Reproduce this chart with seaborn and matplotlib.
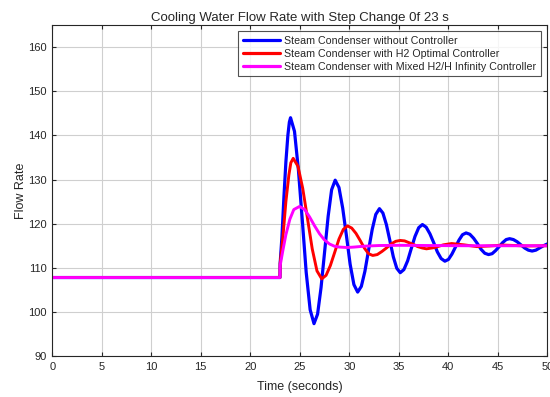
import numpy as np
import pandas as pd
import matplotlib
matplotlib.use('Agg')
import matplotlib.pyplot as plt
import seaborn as sns

# time / value pairs (step change at 23 s)
t_blue = [0, 23.0, 23.02, 23.2, 23.4, 23.6, 23.8, 23.95, 24.07,
          24.47, 24.86, 25.26, 25.65, 26.05, 26.44,
          26.80, 27.15, 27.51, 27.87, 28.22, 28.58,
          28.96, 29.34, 29.72, 30.09, 30.47, 30.85,
          31.22, 31.58, 31.95, 32.32, 32.68, 33.05,
          33.40, 33.75, 34.10, 34.45, 34.80, 35.15,
          35.52, 35.90, 36.27, 36.64, 37.02, 37.39,
          37.77, 38.15, 38.53, 38.90, 39.28, 39.66,
          40.02, 40.37, 40.73, 41.09, 41.44, 41.80,
          42.18, 42.56, 42.94, 43.31, 43.69, 44.07,
          44.43, 44.78, 45.14, 45.49, 45.85, 46.20,
          46.58, 46.96, 47.34, 47.71, 48.09, 48.47,
          48.85, 49.23, 49.62, 50.0]
v_blue = [107.8, 107.8, 111.0, 117.0, 126.0, 134.0, 140.0, 143.0, 144.0,
          140.9, 132.3, 120.7, 109.0, 100.5, 97.35,
          99.5, 105.5, 113.6, 121.7, 127.7, 129.85,
          128.2, 123.5, 117.2, 110.8, 106.2, 104.5,
          105.8, 109.2, 114.0, 118.7, 122.1, 123.4,
          122.4, 119.8, 116.2, 112.5, 109.9, 108.9,
          109.6, 111.6, 114.4, 117.1, 119.1, 119.8,
          119.2, 117.7, 115.7, 113.6, 112.1, 111.5,
          111.9, 113.1, 114.7, 116.3, 117.5, 117.9,
          117.6, 116.7, 115.5, 114.2, 113.3, 113.0,
          113.2, 113.9, 114.8, 115.7, 116.4, 116.6,
          116.4, 115.9, 115.2, 114.5, 114.0, 113.8,
          114.0, 114.5, 115.0, 115.4]

t_red = [0, 23.0, 23.02, 23.3, 23.6, 23.9, 24.1, 24.34,
         24.82, 25.30, 25.78, 26.26, 26.74, 27.22,
         27.66, 28.09, 28.53, 28.96, 29.40, 29.83,
         30.25, 30.68, 31.10, 31.52, 31.95, 32.37,
         32.83, 33.30, 33.76, 34.22, 34.69, 35.15,
         35.59, 36.03, 36.48, 36.92, 37.36, 37.80,
         38.64, 39.07, 39.50, 40.34, 41.6, 42.9, 44.2, 45.5, 46.8, 48.0, 50.0]
v_red = [107.8, 107.8, 111.0, 117.0, 125.0, 131.0, 133.8, 134.8,
         133.0, 128.0, 121.2, 114.3, 109.3, 107.5,
         108.3, 110.5, 113.5, 116.5, 118.7, 119.5,
         119.0, 117.8, 116.2, 114.5, 113.2, 112.8,
         113.0, 113.7, 114.5, 115.4, 116.0, 116.2,
         116.1, 115.7, 115.3, 114.8, 114.5, 114.3,
         114.6, 114.9, 115.2, 115.5, 115.2, 114.8, 114.95, 115.15, 115.05, 114.95, 115.0]

t_mag = [0, 23.0, 23.02, 23.3, 23.6, 24.0, 24.4, 24.98, 25.5, 26.0, 26.5,
         27.0, 27.5, 28.0, 28.5, 29.0, 29.8, 30.5, 31.5, 33.0, 35.0, 38.0, 42.0, 50.0]
v_mag = [107.8, 107.8, 110.5, 114.0, 117.5, 121.0, 123.2, 123.9, 123.2, 121.5, 119.5,
         117.7, 116.3, 115.4, 114.9, 114.7, 114.6, 114.7, 114.9, 115.05, 115.1, 115.05, 115.0, 115.0]

labels = ['Steam Condenser without Controller',
          'Steam Condenser with H2 Optimal Controller',
          'Steam Condenser with Mixed H2/H Infinity Controller']
colors = ['#0000ff', '#ff0000', '#ff00ff']

sns.set_style('ticks')
plt.rcParams['font.family'] = ['Liberation Sans', 'DejaVu Sans']

fig, ax = plt.subplots(figsize=(5.5, 3.97), dpi=100)
fig.subplots_adjust(left=0.095, right=0.995, top=0.937, bottom=0.103)

sns.lineplot(x=t_blue, y=v_blue, ax=ax, color=colors[0], lw=2.3, label=labels[0],
             sort=False, estimator=None)
sns.lineplot(x=t_red, y=v_red, ax=ax, color=colors[1], lw=2.1, label=labels[1],
             sort=False, estimator=None)
sns.lineplot(x=t_mag, y=v_mag, ax=ax, color=colors[2], lw=2.1, label=labels[2],
             sort=False, estimator=None)

ax.set_xlim(0, 50)
ax.set_ylim(90, 165)
ax.set_xticks(np.arange(0, 51, 5))
ax.set_yticks(np.arange(90, 161, 10))
ax.grid(True, color='#cfcfcf', lw=0.8)
ax.set_axisbelow(True)
ax.tick_params(direction='in', top=True, right=True, labelsize=8, length=3,
               colors='#262626', pad=4)
for s in ax.spines.values():
    s.set_color('#262626')
    s.set_linewidth(0.8)

ax.set_title('Cooling Water Flow Rate with Step Change 0f 23 s', fontsize=9.5, pad=3)
ax.set_xlabel('Time (seconds)', fontsize=9, labelpad=7)
ax.set_ylabel('Flow Rate', fontsize=9, labelpad=1)

leg = ax.legend(loc='upper right', fontsize=7.7, frameon=True, fancybox=False,
                handlelength=3.5, borderpad=0.4, labelspacing=0.3, handletextpad=0.4,
                borderaxespad=0.6)
leg.get_frame().set_edgecolor('#262626')
leg.get_frame().set_linewidth(0.8)
for h in leg.get_lines():
    h.set_linewidth(2.3)

plt.savefig('out.png', dpi=100)
